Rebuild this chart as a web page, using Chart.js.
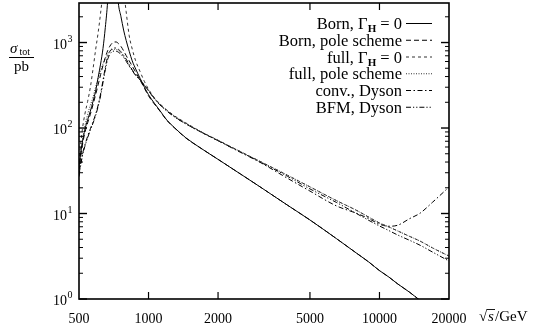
<!DOCTYPE html>
<html>
<head>
<meta charset="utf-8">
<script src="https://cdn.jsdelivr.net/npm/chart.js@4.4.0/dist/chart.umd.min.js"></script>
<style>
  body { margin: 0; background: #fff; }
  canvas { display: block; }
</style>
</head>
<body>
<canvas id="myChart" width="537" height="331"></canvas>
<script>
  // sqrt(s) in GeV, shared by all curves
  const energies = [500, 508, 518, 530, 545, 560, 575, 590, 605, 620, 635, 650, 665, 680, 695, 710,
    725, 740, 760, 780, 800, 825, 850, 880, 920, 960, 1000, 1060, 1120, 1200, 1300, 1450,
    1670, 2000, 2500, 3000, 4000, 5000, 6500, 8000, 9000, 10000, 11000, 12000, 13500, 15000, 17000, 20000];

  // sigma_tot in pb
  const bornZero = [34, 50, 70, 95, 125, 158, 205, 270, 390, 560, 850, 1500, 3000, 9000, 80000, 50000,
    6000, 2900, 2000, 1400, 1060, 790, 610, 490, 380, 300, 245, 195, 160, 124, 100, 77,
    59, 43, 29, 21, 12.5, 8.4, 5.1, 3.4, 2.7, 2.15, 1.8, 1.5, 1.2, 0.96, 0.74, 0.54];
  const bornPole = [31, 46, 65, 88, 115, 145, 188, 245, 320, 420, 540, 670, 800, 905, 980, 1015,
    1015, 975, 900, 800, 705, 610, 530, 450, 362, 292, 238, 191, 158, 123, 99.5, 76.5,
    59, 43, 29, 21, 12.5, 8.4, 5.1, 3.4, 2.7, 2.15, 1.8, 1.5, 1.2, 0.96, 0.74, 0.54];
  const fullZero = [40, 64, 100, 145, 205, 300, 490, 820, 1300, 2200, 4000, 9000, 30000, 100000, 200000, 200000,
    100000, 30000, 9000, 4200, 2300, 1200, 840, 610, 455, 350, 285, 226, 192, 163, 138, 115,
    92, 72, 53, 41.5, 28, 20.5, 14.2, 10.8, 9.05, 7.75, 6.95, 6.25, 5.4, 4.75, 3.95, 3.18];
  const fullPole = [33, 50, 74, 105, 145, 185, 230, 300, 380, 470, 560, 650, 730, 790, 822, 835,
    830, 810, 760, 690, 620, 535, 470, 415, 368, 318, 277, 224, 190, 161, 137, 114,
    92, 72, 53, 41.5, 28, 20.5, 14.2, 10.8, 9.05, 7.75, 6.95, 6.25, 5.4, 4.75, 3.95, 3.18];
  const convDyson = [28, 38, 50, 63, 80, 98, 118, 145, 185, 250, 360, 510, 680, 790, 845, 865,
    860, 835, 780, 710, 640, 555, 480, 418, 366, 316, 275, 222, 188, 159, 135, 112,
    91, 71, 52, 40.5, 25.8, 18.3, 12.3, 10.0, 8.7, 7.5, 7.1, 7.3, 8.7, 10.1, 13.6, 20.4];
  const bfmDyson = [27, 36, 48, 61, 77, 95, 114, 140, 178, 238, 340, 480, 630, 730, 780, 795,
    792, 772, 728, 670, 605, 530, 468, 412, 362, 313, 272, 220, 187, 158, 134, 112,
    91, 71, 52.5, 40.8, 27.2, 19.4, 13.5, 9.9, 8.3, 7.15, 6.3, 5.6, 4.86, 4.25, 3.53, 2.78];

  const xTicks = [500, 1000, 2000, 5000, 10000, 20000];
  const yDecades = [1, 10, 100, 1000];
  const yExponents = ['0', '1', '2', '3'];

  const serif = "'Liberation Serif', 'Times New Roman', serif";

  function pts(vals) {
    return energies.map((e, i) => ({x: e, y: vals[i]}));
  }

  function line(ctx, x1, y1, x2, y2) {
    ctx.beginPath(); ctx.moveTo(x1, y1); ctx.lineTo(x2, y2); ctx.stroke();
  }

  // draws text pieces (for subscripts), right aligned at xRight
  function richText(ctx, parts, xRight, y) {
    let total = 0;
    parts.forEach(p => { ctx.font = p.font; p.w = ctx.measureText(p.t).width; total += p.w; });
    let x = xRight - total;
    parts.forEach(p => { ctx.font = p.font; ctx.fillText(p.t, x, y + (p.dy || 0)); x += p.w; });
  }

  const legFont = '16.5px ' + serif;
  const subFont = 'bold 11px ' + serif;
  const legendParts = [
    [{t: 'Born, Γ', font: legFont}, {t: 'H', font: subFont, dy: 3}, {t: ' = 0', font: legFont}],
    [{t: 'Born, pole scheme', font: legFont}],
    [{t: 'full, Γ', font: legFont}, {t: 'H', font: subFont, dy: 3}, {t: ' = 0', font: legFont}],
    [{t: 'full, pole scheme', font: legFont}],
    [{t: 'conv., Dyson', font: legFont}],
    [{t: 'BFM, Dyson', font: legFont}]
  ];

  const decor = {
    id: 'decor',
    afterDraw(chart) {
      const ctx = chart.ctx, a = chart.chartArea;
      const xs = chart.scales.x, ys = chart.scales.y;
      ctx.save();
      ctx.strokeStyle = '#000';
      ctx.fillStyle = '#000';

      // ticks inside the frame
      ctx.lineWidth = 1.2;
      xTicks.slice(1, -1).forEach(v => {
        const px = xs.getPixelForValue(v);
        line(ctx, px, a.bottom, px, a.bottom - 7);
        line(ctx, px, a.top, px, a.top + 7);
      });
      yDecades.forEach(d => {
        for (let k = 1; k <= 9; k++) {
          const v = k * d;
          if (v > ys.max) break;
          const py = ys.getPixelForValue(v);
          const len = k === 1 ? 8 : 4;
          ctx.lineWidth = k === 1 ? 1.4 : 1;
          line(ctx, a.left, py, a.left + len, py);
          line(ctx, a.right, py, a.right - len, py);
        }
      });

      // frame
      ctx.lineWidth = 1.6;
      ctx.strokeRect(a.left, a.top, a.right - a.left, a.bottom - a.top);

      // y tick labels 10^n
      ctx.textBaseline = 'alphabetic';
      ctx.textAlign = 'left';
      yDecades.forEach((d, i) => {
        const py = ys.getPixelForValue(d);
        ctx.font = '14px ' + serif;
        const w1 = ctx.measureText('10').width;
        ctx.font = '10px ' + serif;
        const w2 = ctx.measureText(yExponents[i]).width;
        const x0 = 72 - w1 - w2;
        ctx.font = '14px ' + serif;
        ctx.fillText('10', x0, py + 6);
        ctx.font = '10px ' + serif;
        ctx.fillText(yExponents[i], x0 + w1 + 0.5, py - 1);
      });

      // y axis title as fraction
      ctx.font = 'italic 15px ' + serif;
      ctx.fillText('σ', 10, 53);
      ctx.font = '10px ' + serif;
      ctx.fillText('tot', 19.5, 55);
      ctx.lineWidth = 1;
      line(ctx, 9, 57.5, 34, 57.5);
      ctx.font = '15px ' + serif;
      ctx.textAlign = 'center';
      ctx.fillText('pb', 21.5, 71);

      // x axis title
      ctx.textAlign = 'left';
      ctx.font = '15px ' + serif;
      ctx.fillText('√', 479, 321);
      ctx.font = 'italic 15px ' + serif;
      ctx.fillText('s', 488, 321);
      ctx.lineWidth = 0.9;
      line(ctx, 487, 309.5, 495, 309.5);
      ctx.font = '15px ' + serif;
      ctx.fillText('/GeV', 495, 321);

      // legend
      chart.data.datasets.forEach((ds, i) => {
        const yc = 23.5 + i * 16.75;
        ctx.fillStyle = '#000';
        ctx.textAlign = 'left';
        richText(ctx, legendParts[i], 402, yc + 5.5);
        ctx.strokeStyle = ds.borderColor;
        ctx.lineWidth = 1;
        ctx.setLineDash(ds.borderDash || []);
        line(ctx, 406, yc, 432, yc);
        ctx.setLineDash([]);
      });
      ctx.restore();
    }
  };

  function curve(label, vals, dash, color) {
    return {
      label: label,
      data: pts(vals),
      borderColor: color,
      borderWidth: 1,
      borderDash: dash,
      pointRadius: 0,
      fill: false,
      cubicInterpolationMode: 'monotone',
      clip: 0
    };
  }

  new Chart(document.getElementById('myChart'), {
    type: 'line',
    data: {
      datasets: [
        curve('Born, ΓH = 0', bornZero, [], '#000'),
        curve('Born, pole scheme', bornPole, [5, 3], '#000'),
        curve('full, ΓH = 0', fullZero, [3, 3], '#333'),
        curve('full, pole scheme', fullPole, [1, 1.5], '#333'),
        curve('conv., Dyson', convDyson, [5, 2.5, 1.5, 2.5], '#000'),
        curve('BFM, Dyson', bfmDyson, [5, 2, 1.2, 2, 1.2, 2], '#000')
      ]
    },
    options: {
      responsive: false,
      animation: false,
      devicePixelRatio: 1,
      layout: { padding: { left: 0, top: 3, right: 88, bottom: 0 } },
      plugins: { legend: { display: false }, tooltip: { enabled: false } },
      scales: {
        x: {
          type: 'logarithmic',
          min: 500,
          max: 20000,
          afterBuildTicks: s => { s.ticks = xTicks.map(v => ({value: v})); },
          afterFit: s => { s.height = 32; },
          grid: { display: false },
          border: { display: false },
          ticks: {
            autoSkip: false,
            maxRotation: 0,
            padding: 4,
            color: '#000',
            font: { family: serif, size: 14 },
            callback: v => String(v)
          }
        },
        y: {
          type: 'logarithmic',
          min: 1,
          max: 2900,
          afterBuildTicks: s => { s.ticks = yDecades.map(v => ({value: v})); },
          afterFit: s => { s.width = 79; },
          grid: { display: false },
          border: { display: false },
          ticks: { display: false }
        }
      }
    },
    plugins: [decor]
  });
</script>
</body>
</html>
